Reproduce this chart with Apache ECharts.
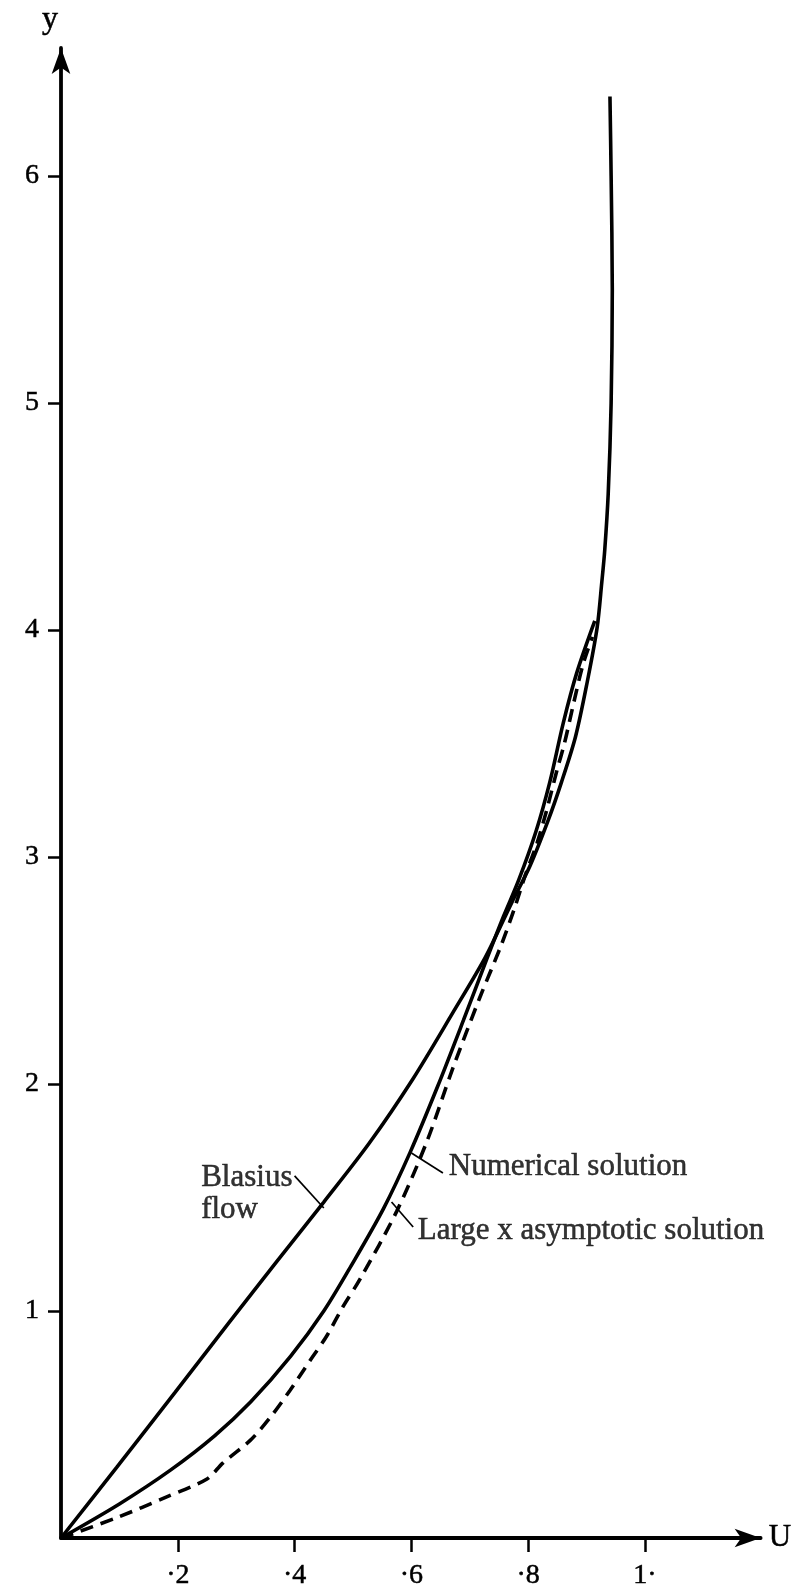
<!DOCTYPE html>
<html>
<head>
<meta charset="utf-8">
<script src="https://cdn.jsdelivr.net/npm/echarts@6/dist/echarts.min.js"></script>
<style>
  html, body { margin: 0; padding: 0; background: #fff; }
  #chart { width: 791px; height: 1592px; }
</style>
</head>
<body>
<div id="chart"></div>
<script>
// ---- data (U = velocity, y = height) ----
const blasiusU = [0, 0.095, 0.195, 0.285, 0.370, 0.450, 0.528, 0.602, 0.670, 0.727, 0.772, 0.803, 0.834, 0.857, 0.881, 0.901, 0.918, 0.926, 0.931, 0.937, 0.942, 0.944, 0.942, 0.940];
const blasiusY = [0, 0.31, 0.64, 0.94, 1.22, 1.48, 1.74, 2.02, 2.31, 2.56, 2.80, 2.96, 3.16, 3.33, 3.53, 3.77, 4.01, 4.21, 4.35, 4.60, 5.00, 5.50, 6.00, 6.35];

const numericalU = [0, 0.100, 0.188, 0.263, 0.325, 0.393, 0.450, 0.497, 0.552, 0.598, 0.645, 0.689, 0.729, 0.758, 0.784, 0.813, 0.837, 0.860, 0.883, 0.914];
const numericalY = [0, 0.15, 0.30, 0.45, 0.60, 0.80, 1.00, 1.20, 1.45, 1.70, 1.99, 2.28, 2.55, 2.74, 2.90, 3.11, 3.33, 3.59, 3.81, 4.04];

const asymptoticU = [0, 0.096, 0.18, 0.25, 0.277, 0.324, 0.358, 0.392, 0.426, 0.455, 0.483, 0.512, 0.575, 0.627, 0.671, 0.717, 0.752, 0.776, 0.795, 0.815, 0.832, 0.849, 0.862, 0.878, 0.894, 0.910];
const asymptoticY = [0, 0.09, 0.18, 0.26, 0.33, 0.43, 0.53, 0.65, 0.78, 0.89, 1.02, 1.14, 1.44, 1.75, 2.07, 2.38, 2.60, 2.77, 2.92, 3.06, 3.21, 3.38, 3.50, 3.68, 3.85, 3.97];

const xTickValues = [0.2, 0.4, 0.6, 0.8, 1.0];
const xTickLabels = ['·2', '·4', '·6', '·8', '1·'];
const yTickValues = [1, 2, 3, 4, 5, 6];
const yTickLabels = ['1', '2', '3', '4', '5', '6'];

const annotationTexts = ['Blasius\nflow', 'Numerical solution', 'Large x asymptotic solution'];
const annotationAt = [[0.240, 1.515], [0.664, 1.634], [0.611, 1.352]];
const pointerFrom = [[0.400, 1.595], [0.600, 1.696], [0.566, 1.480]];
const pointerTo = [[0.450, 1.454], [0.654, 1.608], [0.603, 1.370]];

// ---- chart ----
const pair = (us, ys) => us.map((u, i) => [u, ys[i]]);
const serif = '"Liberation Serif", "DejaVu Serif", serif';
const chart = echarts.init(document.getElementById('chart'), null, { renderer: 'canvas' });

const curveStyle = { color: '#000', width: 3.6 };
const series = [
  { type: 'line', name: 'Blasius flow', data: pair(blasiusU, blasiusY), smooth: 0.3, symbol: 'none', lineStyle: curveStyle, z: 3 },
  { type: 'line', name: 'Numerical solution', data: pair(numericalU, numericalY), smooth: 0.3, symbol: 'none', lineStyle: curveStyle, z: 3 },
  { type: 'line', name: 'Large x asymptotic solution', data: pair(asymptoticU, asymptoticY), smooth: 0.3, symbol: 'none',
    lineStyle: { color: '#000', width: 3.6, type: [13, 8] }, z: 3 }
];
pointerFrom.forEach((p, i) => {
  series.push({ type: 'line', data: [p, pointerTo[i]], symbol: 'none', lineStyle: { color: '#000', width: 1.7 }, silent: true, z: 2 });
});
series.push({
  type: 'scatter', symbolSize: 0, silent: true,
  data: annotationAt.map((p, i) => ({ value: p, name: annotationTexts[i] })),
  label: {
    show: true, position: 'right', distance: 0,
    formatter: p => p.name,
    color: '#000', fontFamily: serif, fontSize: 31, lineHeight: 32, align: 'left', verticalAlign: 'middle',
    textBorderColor: '#000', textBorderWidth: 0.5
  }
});

const tickLabelStyle = { color: '#000', fontFamily: serif, fontSize: 28, textBorderColor: '#000', textBorderWidth: 0.5 };

chart.setOption({
  animation: false,
  backgroundColor: '#fff',
  grid: { left: 61, bottom: 54, width: 1.198 * 584, top: 48, outerBoundsMode: 'none', containLabel: false },
  xAxis: {
    type: 'value', min: 0, max: 1.198,
    name: 'U', nameLocation: 'end', nameGap: 8,
    nameTextStyle: { color: '#000', fontFamily: serif, fontSize: 31, align: 'left', verticalAlign: 'middle', textBorderColor: '#000', textBorderWidth: 0.5 },
    axisLine: { show: true, onZero: false, symbol: ['none', 'arrow'], symbolSize: [14, 26], lineStyle: { color: '#000', width: 3.8 } },
    axisTick: { show: true, length: 14, inside: false, customValues: xTickValues, lineStyle: { color: '#000', width: 2.5 } },
    axisLabel: Object.assign({
      show: true, margin: 24, customValues: xTickValues,
      formatter: v => xTickLabels[xTickValues.findIndex(t => Math.abs(t - v) < 1e-6)] || ''
    }, tickLabelStyle),
    splitLine: { show: false }
  },
  yAxis: {
    type: 'value', min: 0, max: 6.564,
    name: 'y', nameLocation: 'end', nameGap: 12,
    nameTextStyle: { color: '#000', fontFamily: serif, fontSize: 32, padding: [0, 22, 0, 0], textBorderColor: '#000', textBorderWidth: 0.5 },
    axisLine: { show: true, onZero: false, symbol: ['none', 'arrow'], symbolSize: [14, 26], lineStyle: { color: '#000', width: 3.8 } },
    axisTick: { show: true, length: 13, inside: false, customValues: yTickValues, lineStyle: { color: '#000', width: 2.5 } },
    axisLabel: Object.assign({
      show: true, margin: 22, customValues: yTickValues,
      formatter: v => yTickLabels[yTickValues.findIndex(t => Math.abs(t - v) < 1e-6)] || ''
    }, tickLabelStyle),
    splitLine: { show: false }
  },
  series: series
});
</script>
</body>
</html>
